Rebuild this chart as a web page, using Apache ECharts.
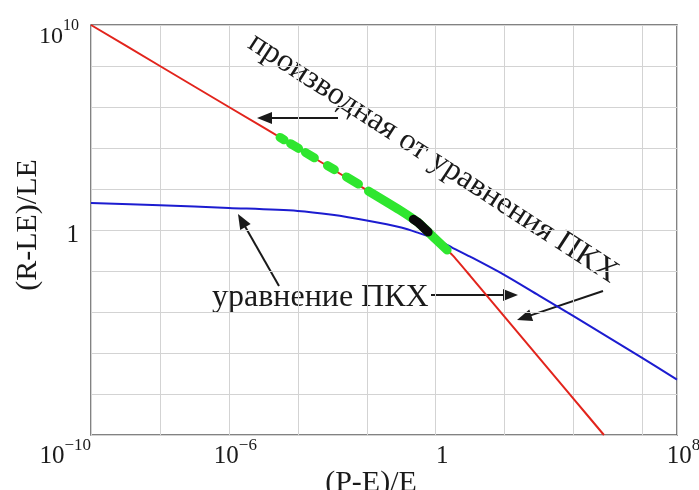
<!DOCTYPE html>
<html>
<head>
<meta charset="utf-8">
<script src="https://cdn.jsdelivr.net/npm/echarts@6/dist/echarts.min.js"></script>
<style>
html,body{margin:0;padding:0;background:#fff;}
#chart{width:699px;height:490px;}
</style>
</head>
<body>
<div id="chart"></div>
<script>
// ---- data (log-log plot) ----
const xTickValues = [1e-10, 1e-6, 1, 1e7];
const xTickLabels = [['10', '\u221210'], ['10', '\u22126'], ['1', ''], ['10', '8']];
const yTickValues = [1e10, 1];
const yTickLabels = [['10', '10'], ['1', '']];

// red: derivative of the capillary-pressure-curve equation
const redX = [1e-10, 1e-8, 1e-6, 1e-4, 1e-2, 0.1, 0.316, 1, 3.16, 10, 100, 1000, 1e4, 7.6e4];
const redY = [1e10, 1e8, 1e6, 1e4, 89, 8.5, 2.24, 0.355, 0.056, 0.0058, 5.8e-5, 5.8e-7, 5.8e-9, 1e-10];

// blue: capillary-pressure-curve equation
const blueX = [1e-10, 1e-8, 1e-6, 1e-4, 1e-3, 1e-2, 0.1, 0.316, 1, 3.16, 10, 100, 1e3, 1e4, 1e5, 1e6, 1e7];
const blueY = [20.9, 16.2, 12.0, 8.5, 5.5, 2.9, 1.32, 0.72, 0.355, 0.132, 0.05, 0.0063, 6.3e-4, 6.3e-5, 6.0e-6, 5.6e-7, 5.0e-8];

// green: measured points lying on the red curve (null = gap between blobs)
const greenX = [3.05e-5, 3.98e-5, null, 6.17e-5, 1.05e-4, null, 1.66e-4, 3.02e-4, null, 7.24e-4, 1.15e-3, null, 2.57e-3, 5.75e-3, null, 0.0112, 0.1, 0.316, 1, 2.14];
const greenY = [3.27e4, 2.51e4, null, 1.62e4, 9.55e3, null, 6.03e3, 3.31e3, null, 1.38e3, 871, null, 389, 174, null, 79.4, 8.5, 2.24, 0.355, 0.105];

// black: highlighted segment
const blackX = [0.224, 0.316, 0.603];
const blackY = [3.31, 2.24, 0.794];

const pair = (xs, ys) => xs.map((x, i) => (x === null ? ['-', '-'] : [x, ys[i]]));

const FONT = '"Liberation Serif", "Times New Roman", serif';
const INK = '#1a1a1a';

function findLabel(vals, v) {
  for (let i = 0; i < vals.length; i++) {
    if (Math.abs(Math.log10(v) - Math.log10(vals[i])) < 0.01) return i;
  }
  return -1;
}
function richText(lbl, top) {
  const b = top ? 'B' : 'b', s = top ? 'S' : 's';
  return lbl[1] ? '{' + b + '|' + lbl[0] + '}{' + s + '|' + lbl[1] + '}' : '{' + b + '|' + lbl[0] + '}';
}
const richStyles = {
  b: {fontFamily: FONT, fontSize: 25, lineHeight: 25, padding: [10, 0, 0, 0], color: INK},
  s: {fontFamily: FONT, fontSize: 17, lineHeight: 17, padding: [3, 0, 15, 0], color: INK},
  B: {fontFamily: FONT, fontSize: 24, lineHeight: 24, padding: [24, 0, 0, 0], color: INK},
  S: {fontFamily: FONT, fontSize: 16, lineHeight: 16, padding: [17, 0, 15, 0], color: INK}
};

function arrow(x1, y1, x2, y2) {
  const dx = x2 - x1, dy = y2 - y1, L = Math.hypot(dx, dy);
  const ux = dx / L, uy = dy / L, hl = 15, hw = 6;
  const bx = x2 - ux * hl, by = y2 - uy * hl;
  return [
    {type: 'line', silent: true, shape: {x1: x1, y1: y1, x2: bx + ux * 3, y2: by + uy * 3},
     style: {stroke: INK, lineWidth: 2}},
    {type: 'polygon', silent: true,
     shape: {points: [[x2, y2], [bx - uy * hw, by + ux * hw], [bx + uy * hw, by - ux * hw]]},
     style: {fill: INK}}
  ];
}

const chart = echarts.init(document.getElementById('chart'), null, {renderer: 'canvas'});

const option = {
  animation: false,
  backgroundColor: '#ffffff',
  grid: {left: 91, right: 22, top: 25, bottom: 55, containLabel: false, outerBoundsMode: 'none',
         show: true, borderColor: '#5a5a5a', borderWidth: 1.5, backgroundColor: 'transparent'},
  xAxis: {
    type: 'log', logBase: 10, min: 1e-10, max: 1e7, interval: 2,
    name: '(P-E)/E', nameLocation: 'middle', nameGap: 33, nameMoveOverlap: false,
    nameTextStyle: {fontFamily: FONT, fontSize: 30, color: INK, padding: [0, 26, 0, 0]},
    axisLine: {show: false}, axisTick: {show: false},
    splitLine: {show: true, lineStyle: {color: '#d3d3d3', width: 1}},
    axisLabel: {
      margin: 4, padding: [0, 0, 0, 13], alignMinLabel: 'right',
      formatter: function (v) {
        const i = findLabel(xTickValues, v);
        return i < 0 ? '' : richText(xTickLabels[i], false);
      },
      rich: richStyles
    }
  },
  yAxis: {
    type: 'log', logBase: 10, min: 1e-10, max: 1e10, interval: 2,
    name: '(R-LE)/LE', nameLocation: 'middle', nameGap: 48, nameMoveOverlap: false,
    nameTextStyle: {fontFamily: FONT, fontSize: 30, color: INK, padding: [0, 0, 0, 10]},
    axisLine: {show: false}, axisTick: {show: false},
    splitLine: {show: true, lineStyle: {color: '#d3d3d3', width: 1}},
    axisLabel: {
      margin: 12,
      formatter: function (v) {
        const i = findLabel(yTickValues, v);
        return i < 0 ? '' : richText(yTickLabels[i], i === 0);
      },
      rich: richStyles
    }
  },
  series: [
    {type: 'line', name: 'derivative', data: pair(redX, redY), showSymbol: false, silent: true,
     smooth: 0.15, lineStyle: {color: '#e2241c', width: 2}, z: 2},
    {type: 'line', name: 'equation', data: pair(blueX, blueY), showSymbol: false, silent: true,
     smooth: 0.3, lineStyle: {color: '#1c1cd0', width: 2}, z: 3},
    {type: 'line', name: 'points', data: pair(greenX, greenY), showSymbol: false, silent: true,
     connectNulls: false, smooth: 0.15, lineStyle: {color: '#2fe62f', width: 9, cap: 'round', join: 'round'}, z: 4},
    {type: 'line', name: 'highlight', data: pair(blackX, blackY), showSymbol: false, silent: true,
     smooth: 0.15, lineStyle: {color: '#0a0a0a', width: 9, cap: 'round', join: 'round'}, z: 5}
  ],
  graphic: [].concat(
    [
      {type: 'text', silent: true, x: 433, y: 158, rotation: -33 * Math.PI / 180,
       style: {text: 'производная от уравнения ПКХ', font: '32px ' + FONT, fill: INK,
               textAlign: 'center', textVerticalAlign: 'middle', verticalAlign: 'middle'}},
      {type: 'text', silent: true, x: 212, y: 298,
       style: {text: 'уравнение ПКХ', font: '32px ' + FONT, fill: INK,
               textAlign: 'left', textVerticalAlign: 'middle', verticalAlign: 'middle'}}
    ],
    arrow(338, 118, 257, 118),
    arrow(279, 286, 238, 214),
    arrow(431, 295, 518, 295),
    arrow(603, 291, 517, 320)
  )
};
chart.setOption(option);
</script>
</body>
</html>
